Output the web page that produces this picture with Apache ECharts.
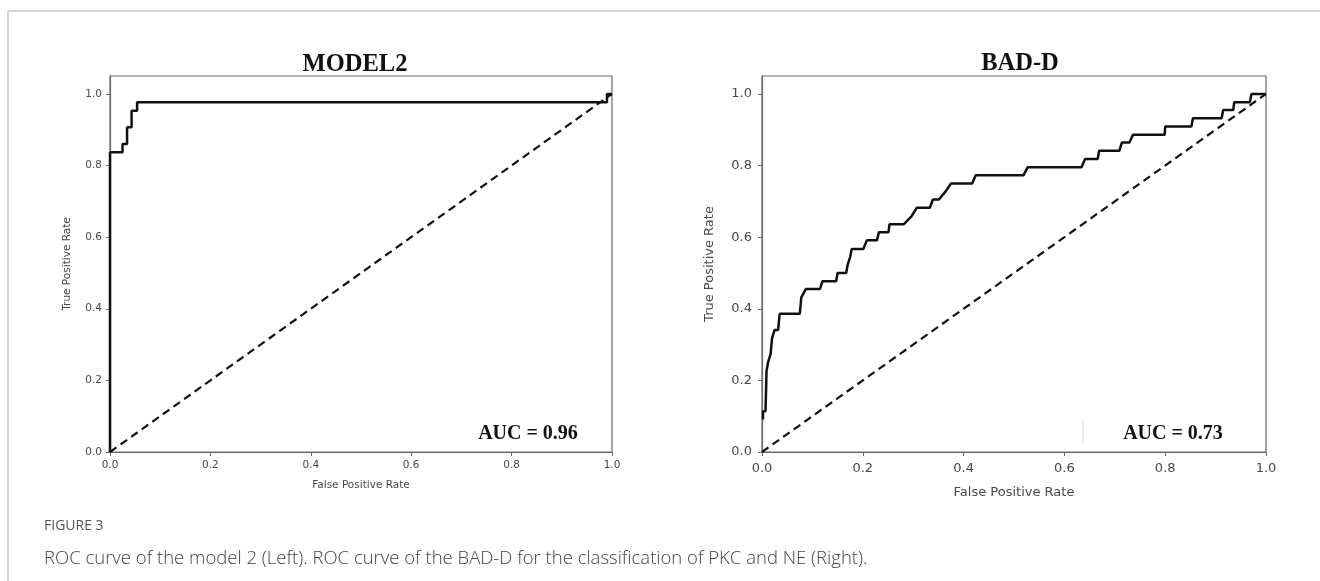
<!DOCTYPE html>
<html>
<head>
<meta charset="utf-8">
<script src="https://cdn.jsdelivr.net/npm/echarts@6/dist/echarts.min.js"></script>
<style>
html,body{margin:0;padding:0;background:#fff;}
#chart{width:1320px;height:581px;}
</style>
</head>
<body>
<div id="chart"></div>
<script>
// ---- data ----
const axisTicks = [0, 0.2, 0.4, 0.6, 0.8, 1.0];
const chanceFpr = [0, 1];
const chanceTpr = [0, 1];

const modelFpr = [0, 0, 0.025, 0.025, 0.034, 0.034, 0.043, 0.043, 0.054, 0.054, 0.99, 0.99, 1.0];
const modelTpr = [0, 0.837, 0.837, 0.860, 0.860, 0.907, 0.907, 0.953, 0.953, 0.977, 0.977, 1.0, 1.0];

const badFpr = [0.002, 0.002, 0.007, 0.009, 0.012, 0.017, 0.020, 0.025, 0.032, 0.035, 0.075, 0.078, 0.087,
  0.115, 0.120, 0.147, 0.150, 0.167, 0.170, 0.175, 0.178, 0.201, 0.208, 0.228, 0.232, 0.251, 0.253,
  0.281, 0.297, 0.307, 0.333, 0.339, 0.351, 0.364, 0.375, 0.417, 0.424, 0.519, 0.527, 0.634, 0.641,
  0.666, 0.669, 0.709, 0.714, 0.729, 0.736, 0.799, 0.800, 0.852, 0.855, 0.912, 0.915, 0.935, 0.937,
  0.968, 0.971, 1.0];
const badTpr = [0.091, 0.114, 0.114, 0.227, 0.250, 0.273, 0.318, 0.341, 0.341, 0.386, 0.386, 0.432, 0.455,
  0.455, 0.477, 0.477, 0.500, 0.500, 0.523, 0.545, 0.567, 0.567, 0.591, 0.591, 0.614, 0.614, 0.636,
  0.636, 0.659, 0.682, 0.682, 0.705, 0.705, 0.727, 0.750, 0.750, 0.773, 0.773, 0.795, 0.795, 0.818,
  0.818, 0.841, 0.841, 0.864, 0.864, 0.886, 0.886, 0.909, 0.909, 0.932, 0.932, 0.955, 0.955, 0.977,
  0.977, 1.0, 1.0];

const titles = ['MODEL2', 'BAD-D'];
const aucTexts = ['AUC = 0.96', 'AUC = 0.73'];
const xName = 'False Positive Rate';
const yName = 'True Positive Rate';
const figLabel = 'FIGURE 3';
const caption = 'ROC curve of the model 2 (Left). ROC curve of the BAD-D for the classification of PKC and NE (Right).';

// ---- chart ----
const zip = (a, b) => a.map((v, i) => [v, b[i]]);
const chart = echarts.init(document.getElementById('chart'), null, {renderer: 'canvas'});

const axisCol = '#6a6a6a';
const labelCol = '#484848';
const fmt = v => v.toFixed(1);

function xAx(gi, fs, margin, gap) {
  return {
    gridIndex: gi, type: 'value', min: 0, max: 1, interval: 0.2,
    name: xName, nameLocation: 'middle', nameGap: gap,
    nameTextStyle: {fontFamily: 'DejaVu Sans', fontSize: fs, color: labelCol},
    axisLine: {show: true, onZero: false, lineStyle: {color: axisCol, width: 1.2}},
    axisTick: {show: true, length: 4, lineStyle: {color: axisCol}, customValues: axisTicks},
    axisLabel: {fontFamily: 'DejaVu Sans', fontSize: fs, color: labelCol, margin: margin, formatter: fmt, customValues: axisTicks},
    splitLine: {show: false}
  };
}
function yAx(gi, fs, margin, gap) {
  return {
    gridIndex: gi, type: 'value', min: 0, max: 1.05, interval: 0.2,
    name: yName, nameLocation: 'middle', nameGap: gap,
    nameTextStyle: {fontFamily: 'DejaVu Sans', fontSize: fs, color: labelCol},
    axisLine: {show: true, onZero: false, lineStyle: {color: axisCol, width: 1.2}},
    axisTick: {show: true, length: 4, lineStyle: {color: axisCol}, customValues: axisTicks},
    axisLabel: {fontFamily: 'DejaVu Sans', fontSize: fs, color: labelCol, margin: margin, formatter: fmt, customValues: axisTicks},
    splitLine: {show: false}
  };
}

const curveStyle = {color: '#111', width: 2.5};
const dashStyle = {color: '#111', width: 2.2, type: [8, 5]};

chart.setOption({
  backgroundColor: '#fff',
  animation: false,
  title: [
    {text: titles[0], left: 350, top: 47, textAlign: 'center',
     textStyle: {fontFamily: 'Liberation Serif', fontWeight: 'bold', fontSize: 24.5, color: '#111'}},
    {text: titles[1], left: 1015, top: 46, textAlign: 'center',
     textStyle: {fontFamily: 'Liberation Serif', fontWeight: 'bold', fontSize: 24.5, color: '#111'}}
  ],
  grid: [
    {left: 110, top: 76, width: 502, height: 376, show: true, borderColor: axisCol, borderWidth: 1.2, containLabel: false},
    {left: 762, top: 76, width: 504, height: 376, show: true, borderColor: axisCol, borderWidth: 1.2, containLabel: false}
  ],
  xAxis: [xAx(0, 10.5, 8, 28), xAx(1, 13, 10, 34)],
  yAxis: [yAx(0, 10.5, 8, 37), yAx(1, 13, 10, 46)],
  series: [
    {type: 'line', xAxisIndex: 0, yAxisIndex: 0, data: zip(chanceFpr, chanceTpr), symbol: 'none', lineStyle: dashStyle, silent: true},
    {type: 'line', xAxisIndex: 0, yAxisIndex: 0, data: zip(modelFpr, modelTpr), symbol: 'none', lineStyle: curveStyle, clip: false, silent: true},
    {type: 'line', xAxisIndex: 1, yAxisIndex: 1, data: zip(chanceFpr, chanceTpr), symbol: 'none', lineStyle: dashStyle, silent: true},
    {type: 'line', xAxisIndex: 1, yAxisIndex: 1, data: zip(badFpr, badTpr), symbol: 'none', lineStyle: curveStyle, clip: false, silent: true}
  ],
  graphic: [
    {type: 'line', shape: {x1: 8, y1: 11, x2: 1320, y2: 11}, style: {stroke: '#c4c4c4', lineWidth: 1.5}, silent: true},
    {type: 'line', shape: {x1: 8, y1: 11, x2: 8, y2: 581}, style: {stroke: '#c4c4c4', lineWidth: 1.5}, silent: true},
    {type: 'line', shape: {x1: 1083, y1: 420, x2: 1083, y2: 443}, style: {stroke: '#dcdcdc', lineWidth: 1}, silent: true},
    {type: 'text', x: 528, y: 434, style: {text: aucTexts[0], align: 'center', verticalAlign: 'middle',
      font: 'bold 20px "Liberation Serif"', fill: '#111'}, silent: true},
    {type: 'text', x: 1173, y: 434, style: {text: aucTexts[1], align: 'center', verticalAlign: 'middle',
      font: 'bold 20px "Liberation Serif"', fill: '#111'}, silent: true},
    {type: 'text', x: 44, y: 526, style: {text: figLabel, align: 'left', verticalAlign: 'middle',
      font: '14px "Open Sans"', fill: '#555'}, silent: true},
    {type: 'text', x: 44, y: 559, style: {text: caption, align: 'left', verticalAlign: 'middle',
      font: '300 18.5px "Open Sans"', fill: '#444'}, silent: true}
  ]
});
</script>
</body>
</html>
